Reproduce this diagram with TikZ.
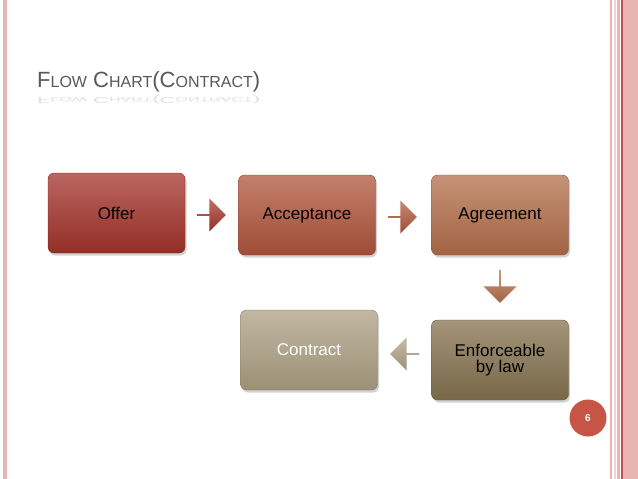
\documentclass[tikz,border=0pt]{standalone}
\usepackage{fontspec}
\setmainfont{Liberation Sans}
\usetikzlibrary{shapes.arrows,shadows}
\definecolor{c1}{HTML}{A3332A}
\definecolor{c2}{HTML}{B0553B}
\definecolor{c3}{HTML}{B36E4A}
\definecolor{c4}{HTML}{85724F}
\definecolor{c5}{HTML}{ADA083}
\definecolor{pk}{HTML}{E9B5B3}
\definecolor{dr}{HTML}{C0504D}
\begin{document}
\begin{tikzpicture}[x=1pt,y=-1pt,
  box/.style={rounded corners=6pt,minimum width=137pt,minimum height=80pt,
    font=\fontsize{17}{19}\selectfont,align=center,
    top color=#1!75!white,bottom color=#1!90!black,draw=#1!80!black,line width=0.4pt,
    drop shadow={shadow xshift=1.5pt,shadow yshift=-2.5pt,opacity=0.35}},
  arr/.style={single arrow,single arrow head extend=4pt,minimum height=29pt,
    minimum width=33pt,inner sep=0pt,top color=#1!70!white,bottom color=#1!90!black,
    draw=none,shape border rotate=0}]
\fill[white] (0,0) rectangle (638,479);
\useasboundingbox (0,0) rectangle (638,479);
% borders
\fill[pk] (3,0) rectangle (7,479);
\fill[pk] (610,0) rectangle (612,479);
\fill[pk!60] (614,0) rectangle (616,479);
\fill[pk] (617,0) rectangle (620,479);
\fill[pk] (622,0) rectangle (638,479);
\fill[dr] (621,0) rectangle (622.5,479);
% title
\node[anchor=base west,text=black!65,inner sep=0pt,font=\fontsize{22}{24}\selectfont] (title) at (37,87)
 {F{\fontsize{16}{18}\selectfont LOW} C{\fontsize{16}{18}\selectfont HART}(C{\fontsize{16}{18}\selectfont ONTRACT})};
\node[anchor=base west,text=black!12,inner sep=0pt,yscale=-0.4,font=\fontsize{22}{24}\selectfont] (refl) at (37,97)
 {F{\fontsize{16}{18}\selectfont LOW} C{\fontsize{16}{18}\selectfont HART}(C{\fontsize{16}{18}\selectfont ONTRACT})};
% boxes
\node[box=c1] (offer) at (116.5,213) {Offer};
\node[box=c2] (acc) at (307,215) {Acceptance};
\node[box=c3] (agr) at (500,215) {Agreement};
\node[box=c4] (enf) at (500,360) {Enforceable\\[-3pt]by law};
\node[box=c5,text=white] (con) at (309,350) {Contract};
% arrows
\node[arr=c1] (a1) at (211,215) {};
\node[arr=c2] (a2) at (402,217) {};
\node[arr=c3,shape border rotate=270,minimum height=33pt] (a3) at (500,286) {};
\node[arr=c5,shape border rotate=180] (a4) at (405,354) {};
% page number
\node[circle,fill=dr!90!orange,minimum size=37pt,text=white,font=\bfseries\fontsize{10}{12}\selectfont] (pg) at (588,418) {6};
\end{tikzpicture}
\end{document}
